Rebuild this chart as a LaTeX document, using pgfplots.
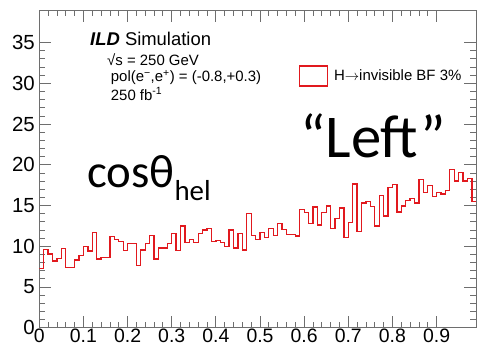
\documentclass[border=0pt]{standalone}
\usepackage{pgfplots}
\pgfplotsset{compat=1.18}
\usepackage{fontspec}
\setmainfont{Liberation Sans}
\newfontfamily\calibri{Carlito}
\definecolor{histred}{RGB}{225,25,30}
\definecolor{framegray}{RGB}{110,110,110}
\pgfplotstableread{
x y
0.00 7.3
0.01 9.6
0.02 9.05
0.03 8.2
0.04 8.5
0.05 9.75
0.06 7.4
0.07 7.4
0.08 8.3
0.09 8.85
0.10 9.95
0.11 9.4
0.12 11.7
0.13 8.45
0.14 8.65
0.15 8.65
0.16 11.2
0.17 10.85
0.18 10.6
0.19 9.45
0.20 10.35
0.21 10.35
0.22 7.6
0.23 9.55
0.24 10.3
0.25 11.3
0.26 8.45
0.27 9.8
0.28 9.8
0.29 10.3
0.30 11.6
0.31 9.5
0.32 12.5
0.33 10.45
0.34 10.85
0.35 10.45
0.36 11.6
0.37 12.0
0.38 12.15
0.39 10.55
0.40 10.7
0.41 10.45
0.42 10.0
0.43 12.0
0.44 9.8
0.45 11.55
0.46 9.55
0.47 14.05
0.48 11.3
0.49 10.85
0.50 11.7
0.51 11.05
0.52 12.2
0.53 11.3
0.54 12.8
0.55 12.05
0.56 11.4
0.57 11.45
0.58 11.25
0.59 14.5
0.60 14.15
0.61 12.75
0.62 14.8
0.63 12.6
0.64 14.1
0.65 14.95
0.66 12.2
0.67 13.4
0.68 14.7
0.69 11.05
0.70 12.9
0.71 17.65
0.72 11.8
0.73 15.3
0.74 15.5
0.75 14.85
0.76 12.5
0.77 16.2
0.78 13.7
0.79 17.25
0.80 17.6
0.81 14.2
0.82 14.95
0.83 15.6
0.84 15.9
0.85 15.3
0.86 18.2
0.87 16.6
0.88 17.45
0.89 16.1
0.90 16.6
0.91 16.4
0.92 16.8
0.93 19.45
0.94 18.0
0.95 19.05
0.96 18.0
0.97 18.35
0.98 15.5
0.99 15.5
}\histdata
\begin{document}
\begin{tikzpicture}[x=1bp,y=1bp]
\useasboundingbox (-39.3,-19.3) rectangle (437.7,327.7);
\begin{axis}[
  at={(0,0)}, anchor=south west,
  scale only axis, width=437bp, height=317.7bp,
  xmin=0, xmax=0.99, ymin=0, ymax=39,
  xtick={0,0.1,0.2,0.3,0.4,0.5,0.6,0.7,0.8,0.9},
  ytick={0,5,10,15,20,25,30,35},
  minor x tick num=4, minor y tick num=4,
  major tick length=12bp, minor tick length=6bp,
  tick align=inside,
  axis line style={framegray, line width=0.8bp},
  tick style={framegray, line width=0.8bp},
  /pgf/number format/fixed,
  /pgf/number format/assume math mode=true,
  tick label style={font=\fontsize{20.5}{24}\selectfont},
  xticklabel style={anchor=north, inner sep=0pt, yshift=-1.5bp, font=\fontsize{19.5}{22}\selectfont},
  yticklabel style={anchor=east, inner sep=0pt, xshift=-4.3bp},
  legend style={at={(0.594,0.792)}, anchor=west, draw=none, fill=none,
    inner sep=0pt, outer sep=0pt, font=\fontsize{15}{17}\selectfont,
    /tikz/every odd column/.style={column sep=4bp}},
  legend cell align=left,
  legend image code/.code={\draw[histred, line width=1.2bp] (0bp,-10bp) rectangle (28bp,10bp);},
]
\addplot[const plot, histred, line width=1.3bp] table[x=x, y=y] {\histdata};
\addlegendentry{H$\rightarrow$invisible BF 3\%}
\end{axis}
\node[anchor=base west, inner sep=0pt, font=\fontsize{18.5}{20}\selectfont] at (50.7,282.7) {\textbf{\textit{ILD}} Simulation};
\node[anchor=base west, inner sep=0pt, font=\fontsize{15}{17}\selectfont] at (67.7,262.7) {√s = 250 GeV};
\node[anchor=base west, inner sep=0pt, font=\fontsize{15}{17}\selectfont] at (71.4,246) {pol(e\textsuperscript{−},e\textsuperscript{+}) = (-0.8,+0.3)};
\node[anchor=base west, inner sep=0pt, font=\fontsize{15}{17}\selectfont] at (71.4,227.7) {250 fb\textsuperscript{-1}};
\node[anchor=base west, inner sep=0pt, font=\calibri\fontsize{61}{64}\selectfont] at (260.7,170.7) {“Left”};
\node[anchor=base west, inner sep=0pt, font=\calibri\fontsize{47}{50}\selectfont] at (47.7,140.7) {cosθ\raisebox{-13bp}{\fontsize{29}{30}\selectfont hel}};
\end{tikzpicture}
\end{document}
